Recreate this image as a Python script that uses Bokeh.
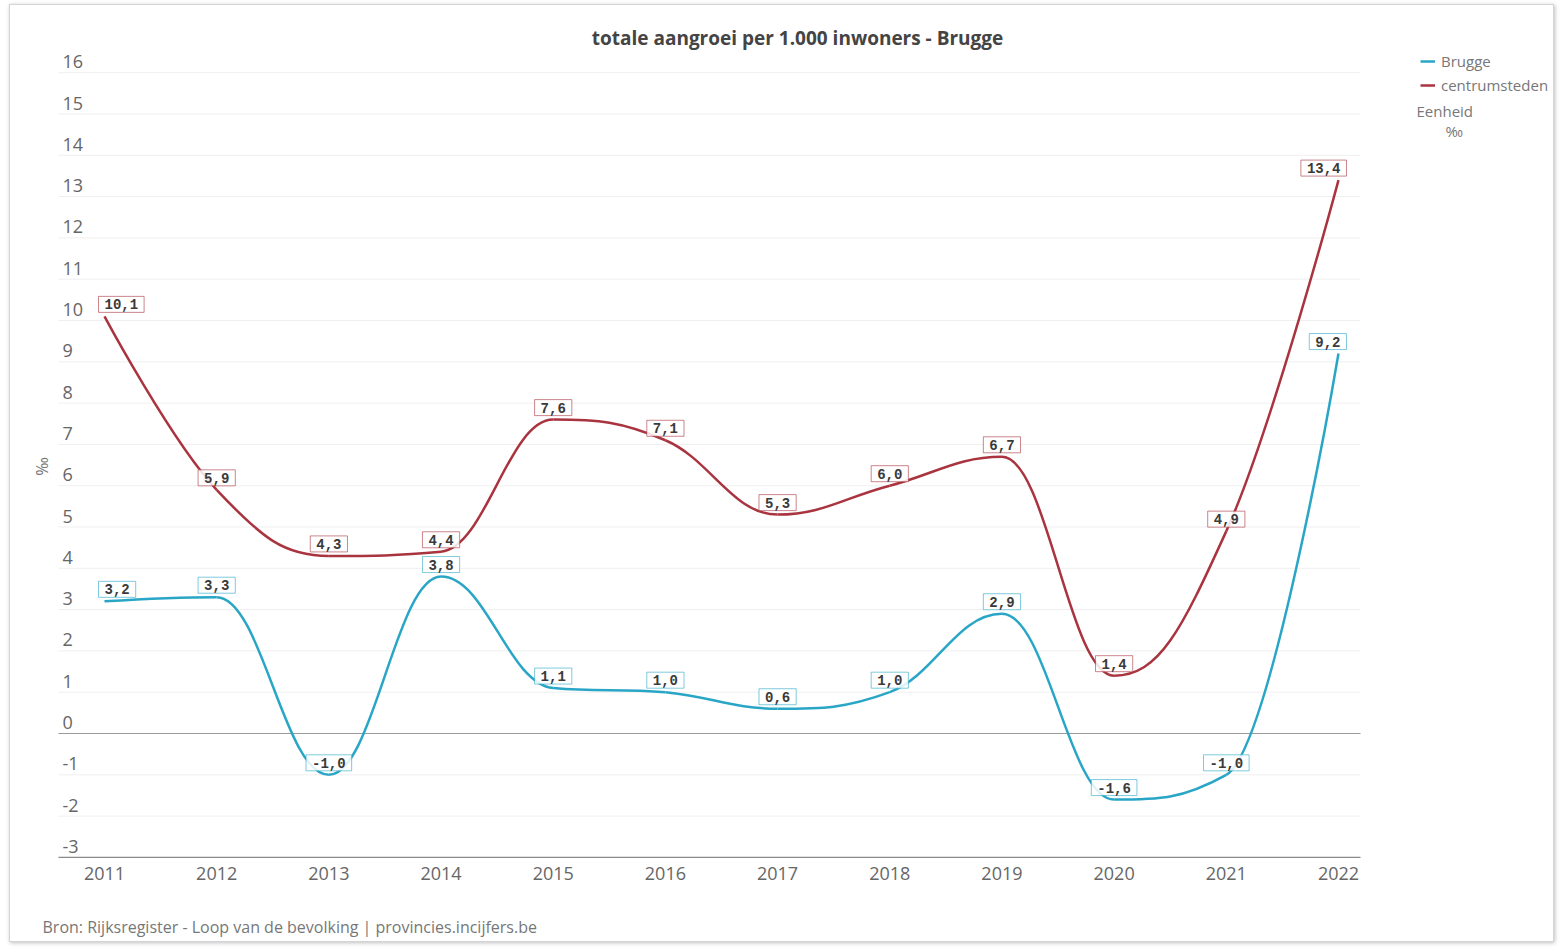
import math
import numpy as np
from bokeh.plotting import figure
from bokeh.models import Range1d, ColumnDataSource, Legend, LegendItem, Label
from bokeh.core.properties import value
from bokeh.embed import file_html
from bokeh.resources import INLINE

# ---------------- data ----------------
years = list(range(2011, 2023))
brugge = [3.2, 3.3, -1.0, 3.8, 1.1, 1.0, 0.6, 1.0, 2.9, -1.6, -1.0, 9.2]
centrum = [10.1, 5.9, 4.3, 4.4, 7.6, 7.1, 5.3, 6.0, 6.7, 1.4, 4.9, 13.4]
y_ticks = list(range(-3, 17))
series_names = ["Brugge", "centrumsteden"]
title_text = "totale aangroei per 1.000 inwoners - Brugge"
source_text = "Bron: Rijksregister - Loop van de bevolking | provincies.incijfers.be"
unit_title = "Eenheid"
unit_text = "‰"

# ---------------- layout / style ----------------
colors = ["#29a6c6", "#a9343f"]
FONT = "Open Sans"
TXT = "#666666"
LIGHT = "#777777"
W, H = 1545, 938                # figure content size (placed at page 10,5 by CSS margin)
ML, MR = 0, 5
PAGE_L, PAGE_T = 10, 5
PX_YEAR, PX_UNIT = 112.18, 41.3
X_REF_PX, Y_ZERO_PX = 104, 733  # page pixel of 2011 and of value 0


def px2x(px):
    return years[0] + (px - X_REF_PX) / PX_YEAR


def py2y(py):
    return (Y_ZERO_PX - py) / PX_UNIT


x0, x1 = px2x(PAGE_L + ML), px2x(PAGE_L + W - MR)
y0, y1 = py2y(PAGE_T + H), py2y(PAGE_T)
grid_start = px2x(58)
grid_end = px2x(1360)
axis_y = y_ticks[0]

p = figure(width=W, height=H, output_backend="svg", toolbar_location=None,
           x_range=Range1d(x0, x1), y_range=Range1d(y0, y1),
           min_border_left=ML, min_border_right=MR, min_border_top=0, min_border_bottom=0)
p.outline_line_color = None
p.background_fill_color = "white"
p.border_fill_color = "white"
p.styles = {"margin": "4px 0 0 9px", "border": "1px solid #d4d4d4",
            "box-shadow": "1px 1px 4px rgba(0,0,0,0.25)"}
p.xaxis.visible = False
p.yaxis.visible = False
p.xgrid.grid_line_color = None
p.ygrid.grid_line_color = None

# grid, zero line and x axis line (limited to the data area)
n_t = len(y_ticks)
p.segment(x0=[grid_start] * n_t, x1=[grid_end] * n_t, y0=y_ticks, y1=y_ticks,
          line_color="#efefef", line_width=1)
p.segment(x0=[grid_start], x1=[grid_end], y0=[0], y1=[0], line_color="#9a9a9a", line_width=1)
p.segment(x0=[grid_start], x1=[grid_end], y0=[axis_y], y1=[axis_y],
          line_color="#8a8a8a", line_width=1.2)

# tick labels
p.text(x=[grid_start] * n_t, y=y_ticks, text=[str(t) for t in y_ticks],
       x_offset=4, y_offset=-11, text_align="left", text_baseline="middle",
       text_font=value(FONT), text_font_size="18px", text_color=TXT)
p.text(x=years, y=[axis_y] * len(years), text=[str(yr) for yr in years],
       y_offset=16, text_align="center", text_baseline="middle",
       text_font=value(FONT), text_font_size="18px", text_color=TXT)

# axis title, chart title and source
p.add_layout(Label(x=px2x(41), y=py2y(466), text=unit_text, angle=math.pi / 2,
                   text_align="center", text_baseline="middle", text_font=FONT,
                   text_font_size="16px", text_color=LIGHT))
p.add_layout(Label(x=px2x(797), y=py2y(37), text=title_text, text_align="center",
                   text_baseline="middle", text_font=FONT, text_font_size="19px",
                   text_font_style="bold", text_color="#444444"))
p.add_layout(Label(x=px2x(42), y=py2y(926), text=source_text, text_align="left",
                   text_baseline="middle", text_font=FONT, text_font_size="16px",
                   text_color=LIGHT))


# ---------------- smooth curves (Highcharts-style spline through the data points) ----------
def spline_source(xs, ys, smoothing=1.5):
    X = np.asarray(xs, float)
    Y = np.asarray(ys, float)
    n = len(X)
    lc = [(X[i], Y[i]) for i in range(n)]
    rc = list(lc)
    d = smoothing + 1
    for i in range(1, n - 1):
        px, py = X[i], Y[i]
        lx, ly = X[i - 1], Y[i - 1]
        nx, ny = X[i + 1], Y[i + 1]
        lcx, lcy = (smoothing * px + lx) / d, (smoothing * py + ly) / d
        rcx, rcy = (smoothing * px + nx) / d, (smoothing * py + ny) / d
        corr = 0.0
        if rcx != lcx:
            corr = (rcy - lcy) * (rcx - px) / (rcx - lcx) + py - rcy
        lcy += corr
        rcy += corr
        if lcy > ly and lcy > py:
            lcy = max(ly, py); rcy = 2 * py - lcy
        elif lcy < ly and lcy < py:
            lcy = min(ly, py); rcy = 2 * py - lcy
        if rcy > ny and rcy > py:
            rcy = max(ny, py); lcy = 2 * py - rcy
        elif rcy < ny and rcy < py:
            rcy = min(ny, py); lcy = 2 * py - rcy
        lc[i] = (lcx, lcy)
        rc[i] = (rcx, rcy)
    return ColumnDataSource(dict(
        x0=list(X[:-1]), y0=list(Y[:-1]), x1=list(X[1:]), y1=list(Y[1:]),
        cx0=[rc[i][0] for i in range(n - 1)], cy0=[rc[i][1] for i in range(n - 1)],
        cx1=[lc[i + 1][0] for i in range(n - 1)], cy1=[lc[i + 1][1] for i in range(n - 1)]))


legend_items = []
for name, vals, col in zip(series_names, [brugge, centrum], colors):
    src = spline_source(years, vals)
    r = p.bezier(x0="x0", y0="y0", x1="x1", y1="y1", cx0="cx0", cy0="cy0", cx1="cx1", cy1="cy1",
                 source=src, line_color=col, line_width=2.5)
    legend_items.append(LegendItem(label=name, renderers=[r], index=0))

# data labels
LBL_FS = 14
for vals, col in zip([brugge, centrum], colors):
    n = len(vals)
    texts = [f"{v:.1f}".replace(".", ",") for v in vals]
    widths = [len(t) * LBL_FS * 0.6 + 12 for t in texts]
    xoff = [(widths[i] / 2 - 6) if i == 0 else (-(widths[i] / 2 - 8) if i == n - 1 else 0)
            for i in range(n)]
    lsrc = ColumnDataSource(dict(x=years, y=vals, t=texts, xo=xoff))
    p.text(x="x", y="y", text="t", source=lsrc, x_offset="xo", y_offset=-4,
           anchor="bottom_center", text_align="center", text_baseline="bottom",
           text_font=value("Liberation Mono"), text_font_style="bold",
           text_font_size=f"{LBL_FS}px", text_color="#3a3a3a",
           background_fill_color="white", background_fill_alpha=0.85,
           border_line_color=col, border_line_alpha=0.6, border_line_width=1,
           padding=dict(left=6, right=6, top=3, bottom=3))

# legend (frame coords: x from frame left, y from frame bottom)
frame_left_px = PAGE_L + ML
frame_bottom_px = PAGE_T + H
legend = Legend(items=legend_items, location=(1420 - frame_left_px, frame_bottom_px - 55 - 40))
legend.background_fill_alpha = 0
legend.border_line_color = None
legend.label_text_font = FONT
legend.label_text_font_size = "15px"
legend.label_text_color = LIGHT
legend.glyph_width = 15
legend.glyph_height = 18
legend.label_height = 18
legend.spacing = 4
legend.padding = 0
legend.margin = 0
legend.label_standoff = 6
p.add_layout(legend)

p.add_layout(Label(x=px2x(1416), y=py2y(110), text=unit_title, text_font=FONT,
                   text_font_size="15px", text_color=LIGHT, text_baseline="middle"))
p.add_layout(Label(x=px2x(1445), y=py2y(130), text=unit_text, text_font=FONT,
                   text_font_size="15px", text_color=LIGHT, text_baseline="middle"))

open("out.html", "w").write(file_html(p, INLINE))
